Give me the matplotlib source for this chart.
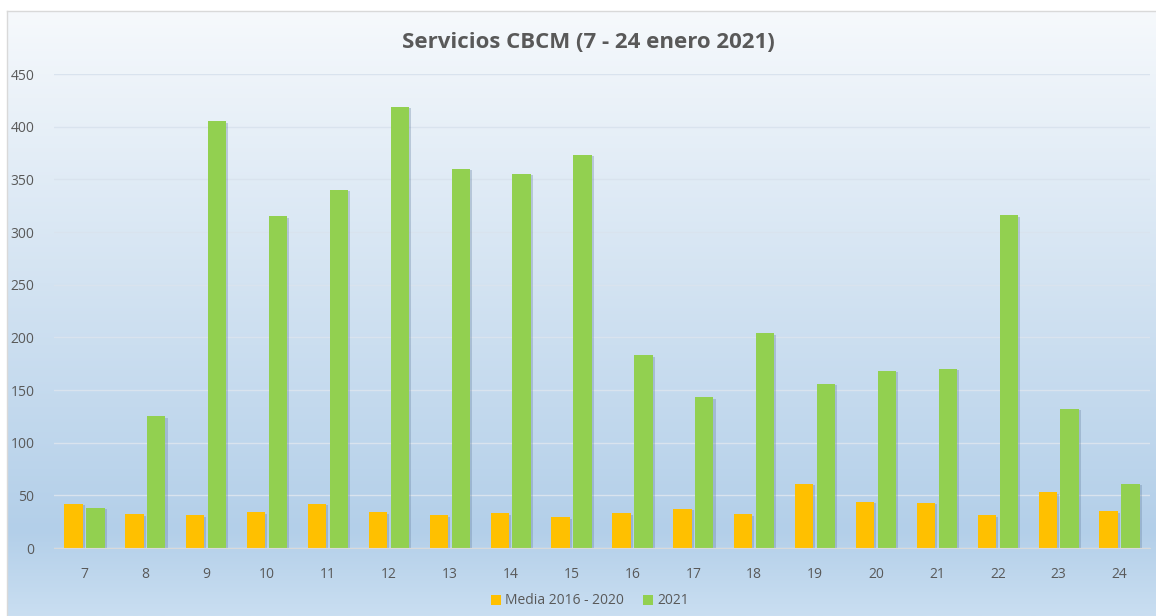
import matplotlib.pyplot as plt
import matplotlib.patheffects as pe
from matplotlib.colors import LinearSegmentedColormap
import numpy as np

# Servicios CBCM, 7 - 24 enero 2021
dias = [ 7, 8, 9, 10, 11, 12, 13, 14, 15, 16, 17, 18, 19, 20, 21, 22, 23, 24 ]
media_2016_2020 = [ 42, 32, 31, 34, 42, 34, 31, 33, 29, 33, 37, 32, 61, 44, 43, 31, 53, 35 ]
serv_2021 = [ 38, 125, 405, 315, 340, 419, 360, 355, 373, 183, 143, 204, 156, 168, 170, 316, 132, 61 ]
y_ticks = [ 0, 50, 100, 150, 200, 250, 300, 350, 400, 450 ]

plt.rcParams['font.family'] = [ 'Open Sans', 'DejaVu Sans' ]

fig = plt.figure( figsize = ( 11.56, 6.16 ), dpi = 100 )

# gradient background of the chart area
bg = fig.add_axes( [ 7/1156, 0, 1 - 7/1156 + 0.01, 1 - 11/616 ], zorder = 0 )
cmap = LinearSegmentedColormap.from_list( 'bg', [ ( 0, '#F6F9FC' ), ( 0.45, '#D3E3F2' ), ( 0.86, '#B3CFE9' ), ( 1, '#C9DEF1' ) ] )
grad = np.linspace( 0, 1, 256 ).reshape( -1, 1 )
bg.imshow( grad, aspect = 'auto', cmap = cmap, extent = [ 0, 1, 0, 1 ], origin = 'upper' )
bg.set_xlim( 0, 1 )
bg.set_ylim( 0, 1 )
bg.set_xticks( [] )
bg.set_yticks( [] )
for k, s in bg.spines.items():
	s.set_color( '#D9D9D9' )
	s.set_linewidth( 1 )
	if k in ( 'right', 'bottom' ):
		s.set_visible( False )

ax = fig.add_axes( [ 54/1156, 1 - 548/616, ( 1150 - 54 )/1156, ( 548 - 74 )/616 ], zorder = 1 )
ax.patch.set_alpha( 0 )

x = np.arange( len( dias ) )
w = 0.3
off = 0.18
shadow = [ pe.withSimplePatchShadow( offset = ( 1.5, -1 ), shadow_rgbFace = '#6A84A3', alpha = 0.35 ) ]

b1 = ax.bar( x - off, media_2016_2020, width = w, color = '#FFC000', label = 'Media 2016 - 2020', zorder = 3 )
b2 = ax.bar( x + off, serv_2021, width = w, color = '#92D050', label = '2021', zorder = 3 )
for b in list( b1 ) + list( b2 ):
	b.set_path_effects( shadow )

ax.set_xlim( -0.5, len( dias ) - 0.5 )
ax.set_ylim( 0, 450 )
ax.set_yticks( y_ticks )
ax.set_xticks( x )
ax.set_xticklabels( [ str( d ) for d in dias ] )
ax.tick_params( axis = 'both', length = 0, labelsize = 10, colors = '#595959' )
ax.tick_params( axis = 'x', pad = 14 )
ax.tick_params( axis = 'y', pad = 14 )
ax.grid( axis = 'y', color = '#D9E3EE', linewidth = 1, zorder = 0 )
for k in [ 'top', 'right', 'left' ]:
	ax.spines[k].set_visible( False )
ax.spines['bottom'].set_color( '#D9D9D9' )
ax.spines['bottom'].set_zorder( 4 )

fig.text( 588/1156, 1 - 42/616, 'Servicios CBCM (7 - 24 enero 2021)', ha = 'center', va = 'center', fontsize = 16, fontweight = 'bold', color = '#595959' )

leg = ax.legend( loc = 'center', bbox_to_anchor = ( ( 590 - 54 )/1096, ( 548 - 601 )/474 ), ncol = 2, frameon = False, fontsize = 10, handlelength = 0.7, handleheight = 0.7, handletextpad = 0.3, columnspacing = 1.4 )
for t in leg.get_texts():
	t.set_color( '#595959' )
for h in leg.legend_handles:
	h.set_path_effects( [] )

fig.savefig( 'out.png', dpi = 100 )
